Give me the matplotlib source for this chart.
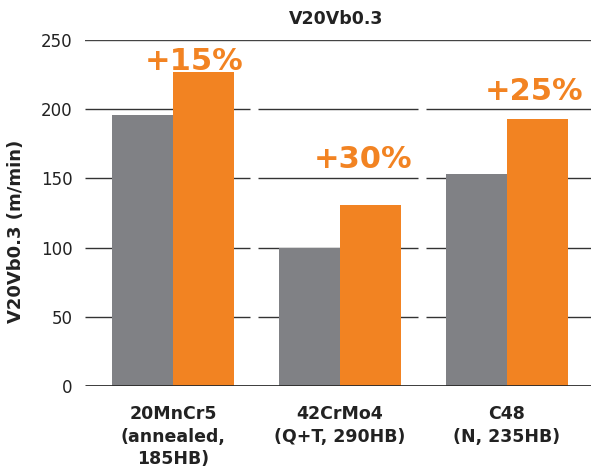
import matplotlib
matplotlib.use("Agg")
import matplotlib.pyplot as plt
import numpy as np

categories = ["20MnCr5\n(annealed,\n185HB)", "42CrMo4\n(Q+T, 290HB)", "C48\n(N, 235HB)"]
gray_values = [196, 100, 153]
orange_values = [227, 131, 193]
gain_labels = ["+15%", "+30%", "+25%"]
yticks = [0, 50, 100, 150, 200, 250]

GRAY = "#808185"
ORANGE = "#F28322"

plt.rcParams['font.family'] = ['DejaVu Sans']
fig = plt.figure(figsize=(5.91, 4.67), dpi=100)
ax = fig.add_axes([85/591, (467-386)/467, 1-85/591, (386-40)/467])

x = np.arange(len(categories))
w = 0.365
ax.bar(x - w/2, gray_values, w, color=GRAY, zorder=3)
ax.bar(x + w/2, orange_values, w, color=ORANGE, zorder=3)

xmin, xmax = -0.527, 2.503
ax.set_xlim(xmin, xmax)
ax.set_ylim(0, 250)

# segmented gridlines
gap = 0.045
segs = [(xmin, 0.5 - gap/2 - 0.015), (0.5 + gap/2 - 0.015, 1.5 - gap/2 - 0.01), (1.5 + gap/2 - 0.01, xmax)]
for yv in yticks[1:-1]:
    for a, b in segs:
        ax.plot([a, b], [yv, yv], color="#333333", lw=1.0, zorder=1, solid_capstyle='butt')
ax.plot([xmin, xmax], [250, 250], color="#444444", lw=1.0, zorder=1)
ax.plot([xmin, xmax], [0, 0], color="#2a2a2a", lw=2.0, zorder=4, solid_capstyle='butt')

for s in ax.spines.values():
    s.set_visible(False)

ax.set_yticks(yticks)
ax.set_yticklabels([str(v) for v in yticks], fontsize=12, color="#222222")
ax.tick_params(axis='y', length=0, pad=9)
ax.set_xticks(x)
ax.set_xticklabels(categories, fontsize=12.5, fontweight='bold', color="#222222", linespacing=1.3, va='top')
ax.tick_params(axis='x', length=0, pad=14)

text_off = [0.126, 0.138, 0.162]
text_y = [228.5, 157.5, 206.5]
for i, lab in enumerate(gain_labels):
    ax.text(x[i] + text_off[i], text_y[i], lab, color=ORANGE, fontsize=22, fontweight='bold',
            ha='center', va='baseline', zorder=5)

fig.text(336.5/591, 1 - 19/467, "V20Vb0.3", fontsize=12.5, fontweight='bold', color="#222222",
         ha='center', va='center')
fig.text(16.5/591, 1 - 231/467, "V20Vb0.3 (m/min)", fontsize=13, fontweight='bold', color="#222222",
         ha='center', va='center', rotation=90)

fig.savefig("out.png", dpi=100)
